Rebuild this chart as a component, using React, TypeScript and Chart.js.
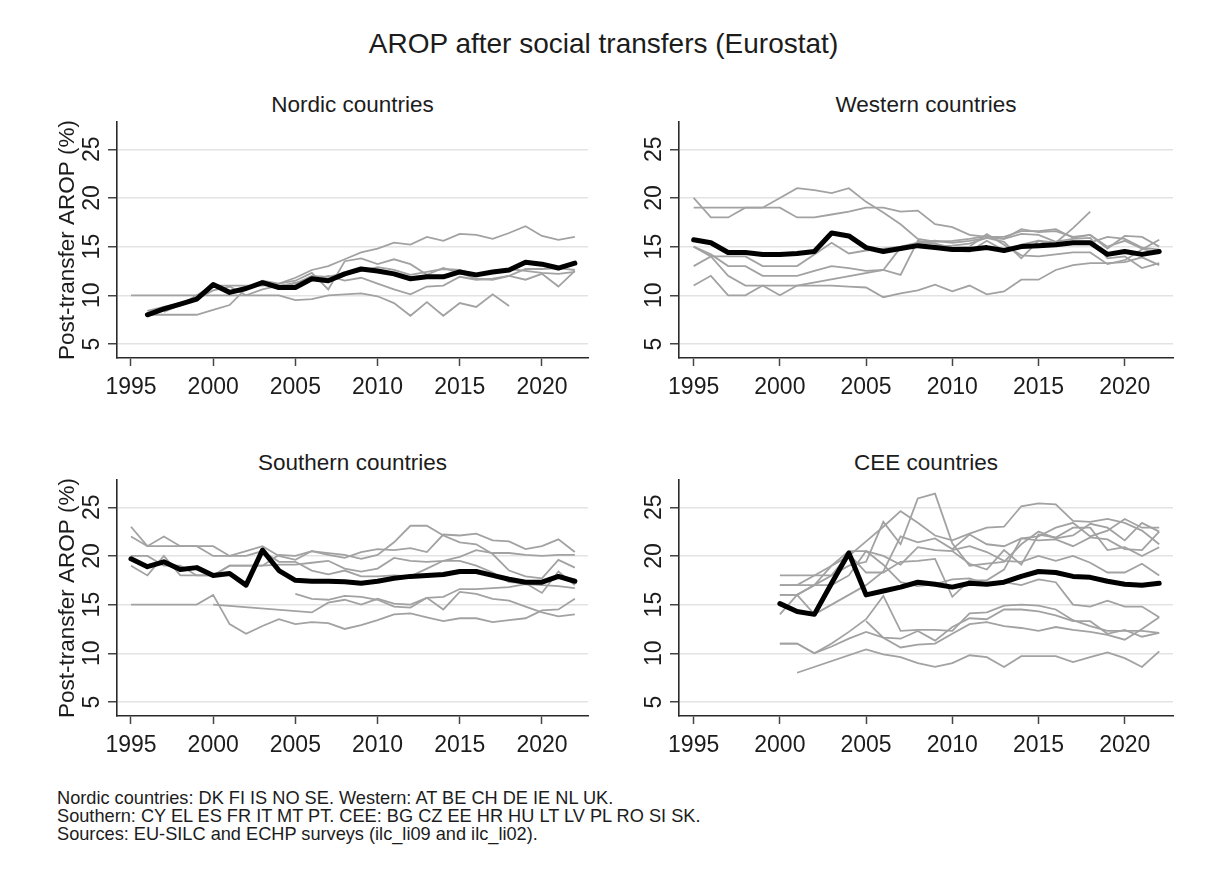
import { useEffect, useRef } from 'react';
import Chart from 'chart.js/auto';

// x categories (survey years) and axis ticks
const YEARS: number[] = [
  1995, 1996, 1997, 1998, 1999, 2000, 2001, 2002, 2003, 2004, 2005, 2006, 2007, 2008,
  2009, 2010, 2011, 2012, 2013, 2014, 2015, 2016, 2017, 2018, 2019, 2020, 2021, 2022,
];
const X_TICKS = [1995, 2000, 2005, 2010, 2015, 2020];
const Y_TICKS = [5, 10, 15, 20, 25];

const N = null;

// Nordic countries: DK FI IS NO SE
const NORDIC_MEAN = [N, 8.0, 8.6, 9.1, 9.6, 11.1, 10.3, 10.7, 11.3, 10.8, 10.8, 11.7, 11.5, 12.2, 12.7, 12.5, 12.2, 11.7, 11.9, 11.9, 12.4, 12.1, 12.4, 12.6, 13.4, 13.2, 12.8, 13.3];
const NORDIC_A = [N, 8.0, 8.0, 8.0, 8.0, 8.5, 9.0, 10.7, 11.5, 11.2, 11.8, 12.6, 13.0, 13.7, 14.4, 14.8, 15.4, 15.2, 16.0, 15.6, 16.3, 16.2, 15.8, 16.4, 17.1, 16.1, 15.7, 16.0];
const NORDIC_B = [10, N, N, N, N, N, N, N, N, 10.0, 9.5, 9.6, 10.0, 10.1, 10.2, 9.9, 9.2, 7.9, 9.3, 7.9, 9.2, 8.8, 10.1, 8.9, N, N, N, N];
const NORDIC_C = [N, N, 8.3, 9.0, 10.0, 11.0, 11.0, 11.0, 11.0, 11.2, 11.5, 12.3, 10.6, 13.5, 13.8, 13.2, 13.7, 13.2, 12.1, 12.8, 12.3, 11.7, 11.6, 12.0, 12.7, 12.7, 12.8, 12.6];
const NORDIC_D = [N, N, N, N, N, N, N, N, 11.2, 10.9, 11.3, 11.5, 12.0, 11.5, 11.8, 11.2, 10.6, 10.1, 10.9, 11.0, 11.9, 11.6, 11.7, 12.0, 11.6, 12.2, 10.9, 12.5];
const NORDIC_E = [N, 8.4, 8.8, 9.2, 9.6, 10.5, 10.9, 10.0, 10.6, 11.0, 11.2, 12.0, 11.9, 12.3, 12.5, 12.9, 12.6, 12.1, 12.4, 12.7, 12.6, 12.1, 12.5, 12.7, 12.5, 12.3, 12.2, 12.4];

// Western: AT BE CH DE IE NL UK
const WEST_MEAN = [15.7, 15.4, 14.4, 14.4, 14.2, 14.2, 14.3, 14.5, 16.4, 16.1, 14.9, 14.5, 14.8, 15.1, 14.9, 14.7, 14.7, 14.9, 14.6, 15.0, 15.1, 15.2, 15.4, 15.4, 14.2, 14.5, 14.2, 14.5];
const WEST_A = [20, 18, 18, 19, 19, 20, 21, 20.8, 20.5, 21.0, 19.6, 18.5, 17.3, 15.8, 15.5, 15.6, 15.8, 16.1, 15.8, 16.8, 16.5, 16.6, 16.0, 16.2, 14.8, 16.1, 16.0, 15.0];
const WEST_B = [19, 19, 19, 19, 19, 19, 18, 18, 18.3, 18.6, 19.0, 19.0, 18.6, 18.7, 17.3, 17.0, 16.2, 16.0, 16.0, 16.6, 16.6, 16.8, 15.9, 16.2, 15.0, 15.6, 14.8, 14.3];
const WEST_C = [15, 14.2, 13, 13, 12, 12, 12, 12.5, 13.0, 12.8, 12.5, 12.6, 12.1, 15.6, 15.3, 14.9, 15.0, 16.3, 15.2, 14.1, 14.0, 14.2, 14.4, 14.4, 13.2, 13.6, 14.7, 15.7];
const WEST_D = [13, 14, 14, 14, 13, 13, 13, 14.2, 15.4, 14.3, 14.6, 14.8, 15.0, 15.4, 15.6, 15.4, 15.6, 15.9, 15.5, 13.8, 15.6, 15.4, 16.9, 18.6, N, N, N, N];
const WEST_E = [15, 14, 12, 11, 11, 11, 11, 11, 11, 10.9, 10.8, 9.8, 10.2, 10.5, 11.1, 10.4, 11.0, 10.1, 10.4, 11.6, 11.6, 12.6, 13.1, 13.3, 13.3, 13.4, 13.9, 13.1];
const WEST_F = [11, 12, 10, 10, 11, 10, 11, N, N, N, N, 12.6, 14.9, 15.2, 15.0, 15.1, 15.3, 15.9, 15.8, 16.3, 16.2, 15.5, 15.8, 15.9, 13.8, 14.0, 12.8, 13.3];
const WEST_G = [N, N, N, N, N, N, N, N, N, N, N, N, 14.6, 15.4, 15.3, 14.6, 14.5, 15.6, 14.6, 15.2, 15.6, 15.1, 15.3, 15.4, 16.0, 15.8, 14.9, 14.7];

// Southern: CY EL ES FR IT MT PT
const SOUTH_MEAN = [19.7, 18.9, 19.4, 18.6, 18.8, 18.0, 18.2, 17.0, 20.6, 18.5, 17.5, 17.4, 17.4, 17.35, 17.2, 17.4, 17.7, 17.9, 18.0, 18.1, 18.4, 18.4, 18.0, 17.6, 17.3, 17.3, 17.9, 17.4];
const SOUTH_ES = [19, 18, 20, 18, 18, 18, 19, 19, 19, 20.1, 20.0, 20.5, 20.1, 19.8, 20.4, 20.7, 20.6, 20.8, 20.4, 22.2, 22.1, 22.3, 21.6, 21.5, 20.7, 21.0, 21.7, 20.4];
const SOUTH_EL = [22, 21, 21, 21, 21, 20, 20, 20.5, 21.0, 20.0, 19.6, 20.5, 20.3, 20.1, 19.7, 20.1, 21.4, 23.1, 23.1, 22.1, 21.4, 21.2, 20.2, 18.5, 17.9, 17.7, 19.6, 18.8];
const SOUTH_PT = [23, 21, 22, 21, 21, 21, 20, 20, 20.5, 19.4, 19.4, 18.5, 18.1, 18.5, 17.9, 17.9, 18.0, 17.9, 18.7, 19.5, 19.5, 19.0, 18.3, 17.3, 17.2, 16.2, 18.4, 17.0];
const SOUTH_IT = [20, 20, 19, 19, 18, 18, 19, 19, 19, 19.1, 19.1, 19.3, 19.5, 18.7, 18.4, 18.7, 19.8, 19.5, 19.4, 19.5, 19.9, 20.6, 20.3, 20.3, 20.1, 20.0, 20.1, 20.1];
const SOUTH_FR = [15, 15, 15, 15, 15, 16, 13, 12, 12.8, 13.5, 13.0, 13.2, 13.1, 12.5, 12.9, 13.4, 14.0, 14.1, 13.7, 13.3, 13.6, 13.6, 13.2, 13.4, 13.6, 14.4, 14.5, 15.6];
const SOUTH_MT = [N, N, N, N, N, 15, N, N, N, N, N, 14.2, 15.2, 15.5, 15.0, 15.6, 15.1, 15.0, 15.7, 14.5, 16.3, 16.1, 15.6, 15.4, 14.8, 14.2, 13.8, 14.0];
const SOUTH_CY = [N, N, N, N, N, N, N, N, N, N, 16.1, 15.6, 15.5, 15.9, 15.8, 15.5, 14.8, 14.7, 15.7, 15.8, 16.6, 16.6, 16.7, 16.8, 17.1, 17.0, 16.9, 16.7];

// CEE: BG CZ EE HR HU LT LV PL RO SI SK
const CEE_MEAN = [N, N, N, N, N, 15.1, 14.3, 14.0, 17.2, 20.3, 16.0, 16.4, 16.8, 17.3, 17.1, 16.8, 17.2, 17.1, 17.3, 17.9, 18.4, 18.3, 17.9, 17.8, 17.4, 17.1, 17.0, 17.2];
const CEE_RO = [N, N, N, N, N, 17, 17, 18, 19, 20, 21.5, 23.0, 24.6, 23.4, 22.1, 21.6, 22.3, 22.9, 23.0, 25.1, 25.4, 25.3, 23.6, 23.5, 23.8, 23.4, 22.6, 21.2];
const CEE_LV = [N, N, N, N, N, 16, 16, 17, 18, 19, 19.4, 23.5, 21.2, 25.9, 26.4, 21.3, 19.0, 19.2, 19.4, 21.2, 22.5, 21.8, 22.1, 23.3, 22.9, 21.6, 23.4, 22.5];
const CEE_BG = [N, N, N, N, N, 14, 16, 14, 15, 16, 17, 18.4, 22.0, 21.4, 21.8, 20.7, 22.2, 21.2, 21.0, 21.8, 22.0, 22.9, 23.4, 22.0, 22.6, 23.8, 22.9, 22.9];
const CEE_LT = [N, N, N, N, N, 17, 17, 17, 19, 20.5, 20.5, 20.0, 19.1, 20.9, 20.6, 20.5, 19.2, 18.6, 20.6, 19.1, 22.2, 21.9, 22.9, 22.9, 20.6, 20.9, 20.0, 20.9];
const CEE_EE = [N, N, N, N, N, 18, 18, 18, 18, 20.2, 18.3, 18.3, 19.4, 19.5, 19.7, 15.8, 17.5, 17.5, 18.6, 21.8, 21.6, 21.7, 21.0, 21.9, 21.7, 20.7, 20.6, 22.5];
const CEE_HR = [N, N, N, N, N, N, N, N, N, N, N, N, N, N, N, 20.6, 21.0, 20.4, 19.5, 19.4, 20.0, 19.5, 20.0, 19.3, 18.3, 18.3, 19.2, 18.0];
const CEE_PL = [N, N, N, N, N, 16, 16, 17, 17, 18, 20.5, 19.1, 17.3, 16.9, 17.1, 17.6, 17.7, 17.1, 17.3, 17.0, 17.6, 17.3, 15.0, 14.8, 15.4, 14.8, 14.8, 13.7];
const CEE_HU = [N, N, N, N, N, 11, 11, 10, 11, 12.2, 13.5, 15.9, 12.3, 12.4, 12.4, 12.3, 14.1, 14.2, 14.9, 15.0, 14.9, 14.5, 13.4, 12.8, 12.3, 12.3, 12.3, 12.1];
const CEE_SI = [N, N, N, N, N, 11, 11, 10, 10.7, 11.5, 12.2, 11.6, 11.5, 12.3, 11.3, 12.7, 13.6, 13.5, 14.5, 14.5, 14.3, 13.9, 13.3, 13.3, 12.0, 12.4, 11.7, 12.1];
const CEE_SK = [N, N, N, N, N, N, N, N, N, N, 13.3, 11.6, 10.6, 10.9, 11.0, 12.0, 13.0, 13.2, 12.8, 12.6, 12.3, 12.7, 12.4, 12.2, 11.9, 11.4, 12.5, 13.7];
const CEE_CZ = [N, N, N, N, N, N, 8.0, N, N, N, 10.4, 9.9, 9.6, 9.0, 8.6, 9.0, 9.8, 9.6, 8.6, 9.7, 9.7, 9.7, 9.1, 9.6, 10.1, 9.5, 8.6, 10.2];

const TITLE = 'AROP after social transfers (Eurostat)';
const Y_TITLE = 'Post-transfer AROP (%)';
const NOTE_LINES = [
  'Nordic countries: DK FI IS NO SE. Western: AT BE CH DE IE NL UK.',
  'Southern: CY EL ES FR IT MT PT. CEE: BG CZ EE HR HU LT LV PL RO SI SK.',
  'Sources: EU-SILC and ECHP surveys (ilc_li09 and ilc_li02).',
];

type Series = (number | null)[];

interface PanelSpec {
  title: string;
  mean: Series;
  countries: Series[];
  left: number;
  top: number;
  yWidth: number;
  rightPad: number;
  yTitle: boolean;
}

const FONT = '"Liberation Sans", Arial, Helvetica, sans-serif';
const TEXT = '#1c1c1c';
const GRAY = '#a2a2a2';
const CANVAS_W = 600;
const CANVAS_H = 300;

const PANELS: PanelSpec[] = [
  { title: 'Nordic countries', mean: NORDIC_MEAN, countries: [NORDIC_A, NORDIC_B, NORDIC_C, NORDIC_D, NORDIC_E], left: 0, top: 110, yWidth: 117, rightPad: 12, yTitle: true },
  { title: 'Western countries', mean: WEST_MEAN, countries: [WEST_A, WEST_B, WEST_C, WEST_D, WEST_E, WEST_F, WEST_G], left: 600, top: 110, yWidth: 79, rightPad: 27, yTitle: false },
  { title: 'Southern countries', mean: SOUTH_MEAN, countries: [SOUTH_ES, SOUTH_EL, SOUTH_PT, SOUTH_IT, SOUTH_FR, SOUTH_MT, SOUTH_CY], left: 0, top: 468, yWidth: 117, rightPad: 12, yTitle: true },
  { title: 'CEE countries', mean: CEE_MEAN, countries: [CEE_RO, CEE_LV, CEE_BG, CEE_LT, CEE_EE, CEE_HR, CEE_PL, CEE_HU, CEE_SI, CEE_SK, CEE_CZ], left: 600, top: 468, yWidth: 79, rightPad: 27, yTitle: false },
];

const toPoints = (vals: Series) => vals.map((v, i) => ({ x: YEARS[i], y: v }));

// Rotated y tick labels and y title, the way Stata draws them
const yTextPlugin = {
  id: 'yText',
  afterDraw(chart: any, _args: any, opts: any) {
    const { ctx, chartArea, scales } = chart;
    const yScale = scales.y;
    ctx.save();
    ctx.fillStyle = TEXT;
    ctx.textAlign = 'center';
    ctx.textBaseline = 'alphabetic';
    ctx.font = `23px ${FONT}`;
    for (const v of Y_TICKS) {
      const py = yScale.getPixelForValue(v);
      ctx.save();
      ctx.translate(chartArea.left - 26, py);
      ctx.rotate(-Math.PI / 2);
      ctx.fillText(String(v), 0, 8.2);
      ctx.restore();
    }
    if (opts.title) {
      ctx.font = `22.5px ${FONT}`;
      ctx.translate(chartArea.left - 43.5, (chartArea.top + chartArea.bottom) / 2);
      ctx.rotate(-Math.PI / 2);
      ctx.fillText(opts.title, 0, 0);
    }
    ctx.restore();
  },
};

function Panel({ spec }: { spec: PanelSpec }) {
  const canvasRef = useRef<HTMLCanvasElement>(null);

  useEffect(() => {
    if (!canvasRef.current) return;
    const datasets: any[] = [
      {
        data: toPoints(spec.mean),
        borderColor: '#000000',
        borderWidth: 5,
        borderJoinStyle: 'round',
        borderCapStyle: 'round',
        pointRadius: 0,
        spanGaps: true,
        tension: 0,
      },
      ...spec.countries.map((c) => ({
        data: toPoints(c),
        borderColor: GRAY,
        borderWidth: 1.8,
        pointRadius: 0,
        spanGaps: true,
        tension: 0,
      })),
    ];

    const chart = new Chart(canvasRef.current, {
      type: 'line',
      data: { datasets },
      options: {
        responsive: false,
        animation: false,
        events: [],
        layout: { padding: { top: 12, right: spec.rightPad, bottom: 0, left: 0 } },
        plugins: {
          legend: { display: false },
          tooltip: { enabled: false },
          title: { display: false },
          yText: { title: spec.yTitle ? Y_TITLE : '' },
        } as any,
        scales: {
          x: {
            type: 'linear',
            min: 1994.15,
            max: 2022.8,
            afterBuildTicks: (axis: any) => {
              axis.ticks = X_TICKS.map((v) => ({ value: v }));
            },
            afterFit: (axis: any) => {
              axis.height = 52;
            },
            ticks: {
              autoSkip: false,
              maxRotation: 0,
              minRotation: 0,
              padding: 8,
              color: TEXT,
              font: { family: FONT, size: 23 },
              callback: (v: any) => String(v),
            },
            grid: {
              drawOnChartArea: false,
              drawTicks: true,
              tickLength: 8,
              tickColor: '#444444',
              tickWidth: 1.5,
            },
            border: { display: true, color: '#2a2a2a', width: 1.6 },
          },
          y: {
            type: 'linear',
            min: 3.56,
            max: 27.8,
            afterBuildTicks: (axis: any) => {
              axis.ticks = Y_TICKS.map((v) => ({ value: v }));
            },
            afterFit: (axis: any) => {
              axis.width = spec.yWidth;
            },
            ticks: { display: false },
            grid: {
              color: '#e3e3e3',
              lineWidth: 1.5,
              drawTicks: true,
              tickLength: 9,
              tickColor: '#444444',
              tickWidth: 1.5,
            },
            border: { display: true, color: '#2a2a2a', width: 1.6 },
          },
        },
      },
      plugins: [yTextPlugin],
    } as any);

    return () => {
      chart.destroy();
    };
  }, [spec]);

  const plotLeft = spec.left + spec.yWidth;
  const plotWidth = CANVAS_W - spec.yWidth - spec.rightPad;

  return (
    <>
      <div
        style={{
          position: 'absolute',
          left: plotLeft,
          top: spec.top - 16.5,
          width: plotWidth,
          textAlign: 'center',
          fontSize: 22.5,
          lineHeight: '22.5px',
          color: TEXT,
          whiteSpace: 'nowrap',
        }}
      >
        {spec.title}
      </div>
      <canvas
        ref={canvasRef}
        width={CANVAS_W}
        height={CANVAS_H}
        style={{ position: 'absolute', left: spec.left, top: spec.top, width: CANVAS_W, height: CANVAS_H }}
      />
    </>
  );
}

export default function App() {
  return (
    <div
      style={{
        position: 'fixed',
        left: 0,
        top: 0,
        width: 1207,
        height: 882,
        background: '#ffffff',
        fontFamily: FONT,
        overflow: 'hidden',
      }}
    >
      <div
        style={{
          position: 'absolute',
          left: 0,
          top: 29.6,
          width: 1207,
          textAlign: 'center',
          fontSize: 28,
          lineHeight: '28px',
          color: TEXT,
        }}
      >
        {TITLE}
      </div>
      {PANELS.map((p) => (
        <Panel key={p.title} spec={p} />
      ))}
      <div
        style={{
          position: 'absolute',
          left: 57,
          top: 789,
          fontSize: 18.2,
          lineHeight: '18px',
          color: TEXT,
          whiteSpace: 'pre',
        }}
      >
        {NOTE_LINES.map((l) => (
          <div key={l}>{l}</div>
        ))}
      </div>
    </div>
  );
}
